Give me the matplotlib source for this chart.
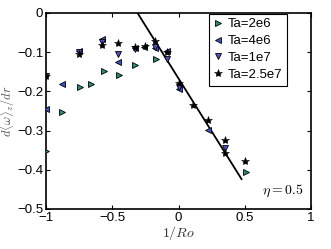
import matplotlib
matplotlib.use("Agg")
import matplotlib.pyplot as plt

plt.rcParams["font.family"] = ["Liberation Sans", "DejaVu Sans"]
plt.rcParams["mathtext.fontset"] = "cm"

# data
x_2e6 = [-1.0, -0.88, -0.74, -0.66, -0.56, -0.45, -0.33, -0.17, 0.51]
y_2e6 = [-0.352, -0.253, -0.188, -0.181, -0.147, -0.158, -0.133, -0.117, -0.407]

x_4e6 = [-1.0, -0.88, -0.75, -0.58, -0.46, -0.33, -0.26, -0.18, -0.09, 0.0, 0.22]
y_4e6 = [-0.245, -0.181, -0.097, -0.066, -0.125, -0.09, -0.088, -0.09, -0.098, -0.195, -0.298]

x_1e7 = [-1.0, -0.75, -0.58, -0.46, -0.33, -0.18, -0.09, 0.0, 0.35]
y_1e7 = [-0.16, -0.10, -0.075, -0.105, -0.092, -0.088, -0.117, -0.19, -0.345]

x_25e7 = [-1.0, -0.75, -0.58, -0.46, -0.33, -0.25, -0.18, -0.09, 0.0, 0.11, 0.22, 0.35, 0.35, 0.5]
y_25e7 = [-0.16, -0.105, -0.082, -0.076, -0.086, -0.085, -0.072, -0.10, -0.178, -0.234,
          -0.272, -0.324, -0.357, -0.377]

# fitted line
fit_x = [-0.35, 0.475]
fit_slope = -0.54
fit_x0 = -0.31

fig = plt.figure(figsize=(3.31, 2.49), dpi=100)
ax = fig.add_axes([0.139, 0.161, 0.801, 0.787])

fit_y = [fit_slope * (v - fit_x0) for v in fit_x]
ax.plot(fit_x, fit_y, color="black", lw=1.3, zorder=2)

ax.plot(x_2e6, y_2e6, ">", ls="none", ms=5, mfc="#2a8a78", mec="black", mew=0.6,
        label="Ta=2e6", zorder=3)
ax.plot(x_4e6, y_4e6, "<", ls="none", ms=5, mfc="#3a50d0", mec="black", mew=0.6,
        label="Ta=4e6", zorder=3)
ax.plot(x_1e7, y_1e7, "v", ls="none", ms=5, mfc="#5050c8", mec="black", mew=0.6,
        label="Ta=1e7", zorder=3)
ax.plot(x_25e7, y_25e7, "*", ls="none", ms=6, mfc="black", mec="black", mew=0.4,
        label="Ta=2.5e7", zorder=4)

ax.set_xlim(-1, 1)
ax.set_ylim(-0.5, 0)
ax.set_xticks([-1, -0.5, 0, 0.5, 1])
ax.set_xticklabels(["\u22121", "\u22120.5", "0", "0.5", "1"])
ax.set_yticks([-0.5, -0.4, -0.3, -0.2, -0.1, 0])
ax.set_yticklabels(["\u22120.5", "\u22120.4", "\u22120.3", "\u22120.2", "\u22120.1", "0"])
ax.tick_params(direction="in", top=True, right=True, labelsize=9.5, length=3, pad=2)
for s in ax.spines.values():
    s.set_linewidth(1.2)

ax.set_xlabel(r"$1/Ro$", fontsize=10, color="#333333", labelpad=0)
ax.set_ylabel(r"$d\langle\omega\rangle_z/dr$", fontsize=9, color="#555555", labelpad=0)
ax.text(0.97, 0.05, r"$\eta=0.5$", transform=ax.transAxes, ha="right", va="bottom",
        fontsize=10)

leg = ax.legend(loc="upper right", bbox_to_anchor=(0.91, 0.997), fontsize=9.5,
                handlelength=0.7, handletextpad=0.4, borderpad=0.35, labelspacing=0.35,
                borderaxespad=0.0, fancybox=False, framealpha=1)
leg.get_frame().set_edgecolor("black")
leg.get_frame().set_linewidth(0.8)

fig.savefig("out.png", dpi=100)
